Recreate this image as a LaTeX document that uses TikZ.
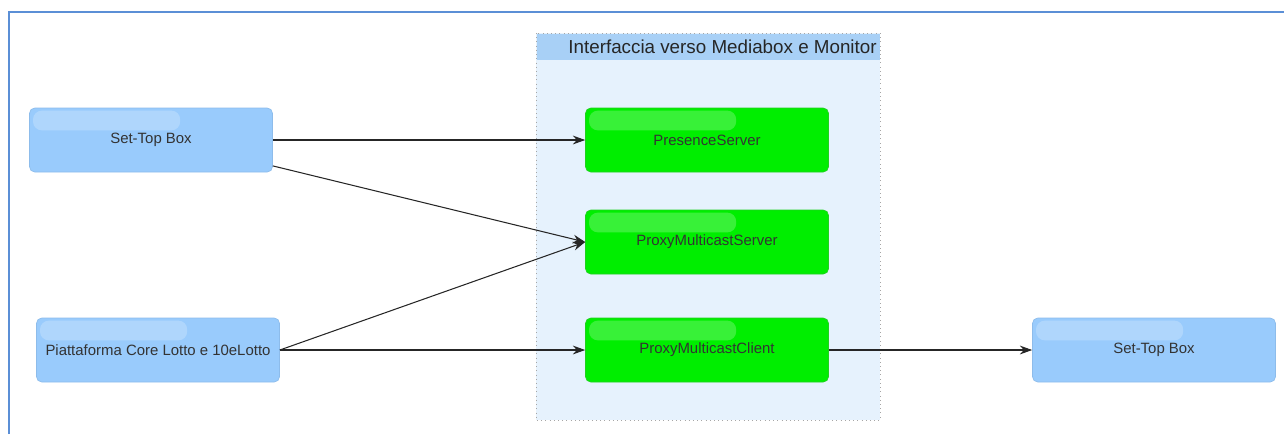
\documentclass[tikz,border=0pt]{standalone}
\usepackage{fontspec}
\setmainfont{Liberation Sans}
\usetikzlibrary{calc,positioning,arrows.meta}

\definecolor{framecol}{HTML}{5B8FD6}
\definecolor{boxblue}{HTML}{99CBFC}
\definecolor{boxblueline}{HTML}{8DBCEB}
\definecolor{boxgreen}{HTML}{00EE00}
\definecolor{boxgreenline}{HTML}{20D020}
\definecolor{groupfill}{HTML}{E6F2FD}
\definecolor{groupband}{HTML}{A8D0F6}

\tikzset{
    gloss/.style={path picture={
        \fill[white,opacity=0.22,rounded corners=5pt]
            ($(path picture bounding box.north west)+(2pt,-1.5pt)$) rectangle
            ($(path picture bounding box.north west)!0.62!(path picture bounding box.east)+(0,-0.05cm)$);
    }},
    bluebox/.style={rectangle,rounded corners=3pt,draw=boxblueline,fill=boxblue,
        minimum width=4.86cm,minimum height=1.28cm,font=\fontsize{8.5}{10}\selectfont,
        text=black!80,gloss},
    greenbox/.style={bluebox,draw=boxgreenline,fill=boxgreen},
    link/.style={-{Stealth[length=7pt,width=5pt]},black!85,line width=0.6pt}
}

\begin{document}
\begin{tikzpicture}[x=0.02cm,y=-0.02cm]
    \useasboundingbox (0,0) rectangle (1284,434);
    % outer frame
    \draw[framecol,line width=1.2pt] (9,434) -- (9,12) -- (1284,12);
    % group
    \draw[gray!70,dotted,fill=groupfill] (536,33) rectangle (880,420);
    \fill[groupband] (536.5,33.5) rectangle (879.5,60);
    \node (grouptitle) [anchor=east,inner sep=0pt,font=\fontsize{10.7}{12}\selectfont,text=black!85]
        at (877,47) {Interfaccia verso Mediabox e Monitor};

    \node (stbleft)  [bluebox]  at (151,140) {Set-Top Box};
    \node (core)     [bluebox]  at (158,350) {Piattaforma Core Lotto e 10eLotto};
    \node (presence) [greenbox] at (707,140) {PresenceServer};
    \node (pmserver) [greenbox] at (707,242) {ProxyMulticastServer};
    \node (pmclient) [greenbox] at (707,350) {ProxyMulticastClient};
    \node (stbright) [bluebox]  at (1154,350) {Set-Top Box};

    \draw[link] (stbleft.east) -- (presence.west);
    \draw[link] (stbleft.-12) -- (pmserver.west);
    \draw[link] (core.east) -- (pmserver.west);
    \draw[link] (core.east) -- (pmclient.west);
    \draw[link] (pmclient.east) -- (stbright.west);
\end{tikzpicture}
\end{document}
